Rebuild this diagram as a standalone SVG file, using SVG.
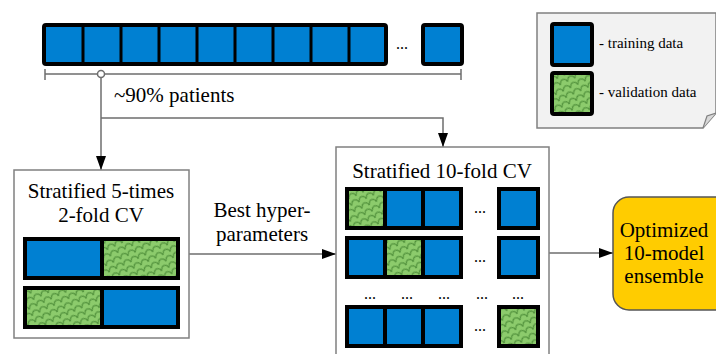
<svg xmlns="http://www.w3.org/2000/svg" width="716" height="354" viewBox="0 0 716 354">
<style>
.tr{fill:#0080D2;stroke:#000;stroke-width:4}
.va{fill:url(#green);stroke:#000;stroke-width:4}
.box{fill:#fff;stroke:#808080;stroke-width:1.5}
.ln{fill:none;stroke:#6e6e6e;stroke-width:1.5}
.t{font-family:'Liberation Serif','Times New Roman','DejaVu Serif',serif;font-size:21px;fill:#000}
.s{font-family:'Liberation Serif','Times New Roman','DejaVu Serif',serif;font-size:15px;fill:#000}
.dots{font-family:'Liberation Serif','Times New Roman','DejaVu Serif',serif;font-size:16px;fill:#000}
</style>
<defs>
<pattern id="green" width="8" height="7" patternUnits="userSpaceOnUse" patternTransform="rotate(-25)">
<rect width="8" height="7" fill="#8ccb6c"/>
<path d="M0,6 Q2,1 5,2 T8,6" fill="none" stroke="#4f8f3a" stroke-width="1.1"/>
</pattern>
<marker id="ah" markerWidth="14" markerHeight="10" refX="14" refY="5" orient="auto" markerUnits="userSpaceOnUse">
<path d="M0,0 L14,5 L0,10 Z" fill="#000"/>
</marker>
</defs>

<g id="legend">
<path d="M537,13 H716 V113 L703,128 H537 Z" fill="#f2f2f2" stroke="#808080" stroke-width="1.5"/>
<path d="M703,128 L707,116 L716,113" fill="#d9d9d9" stroke="#808080" stroke-width="1.2"/>
<rect class="tr" x="552" y="24" width="40" height="41" rx="2"/>
<rect class="va" x="552" y="73" width="40" height="41" rx="2"/>
<text class="s" x="599" y="48">- training data</text>
<text class="s" x="599" y="97">- validation data</text>
</g>

<g id="patients">
<rect class="tr" x="44" y="25" width="342" height="39" rx="2"/>
<path d="M83,25 V64 M121,25 V64 M159,25 V64 M197,25 V64 M235,25 V64 M273,25 V64 M311,25 V64 M349,25 V64" stroke="#000" stroke-width="3"/>
<text class="dots" x="396" y="49">...</text>
<rect class="tr" x="423" y="25" width="39" height="39" rx="2"/>
</g>

<g id="connectors">
<path class="ln" d="M45,74 H461 M45,69 V80 M461,69 V80"/>
<path class="ln" d="M101,78 V170" marker-end="url(#ah)"/>
<path class="ln" d="M101,118 H443 V147" marker-end="url(#ah)"/>
<circle cx="101" cy="74" r="3.5" fill="#fff" stroke="#6e6e6e" stroke-width="1.5"/>
<path class="ln" d="M189,254 H336" marker-end="url(#ah)"/>
<path class="ln" d="M549,253 H613" marker-end="url(#ah)"/>
<text class="t" x="114" y="102">~90% patients</text>
<text class="t" x="262" y="217" text-anchor="middle">Best hyper-</text>
<text class="t" x="262" y="241" text-anchor="middle">parameters</text>
</g>

<g id="cv5">
<rect class="box" x="14" y="170" width="175" height="168"/>
<text class="t" x="101" y="198" text-anchor="middle">Stratified 5-times</text>
<text class="t" x="101" y="222" text-anchor="middle">2-fold CV</text>
<rect class="tr" x="25" y="239" width="77" height="39"/>
<rect class="va" x="102" y="239" width="76" height="39"/>
<rect class="va" x="25" y="288" width="77" height="39"/>
<rect class="tr" x="102" y="288" width="76" height="39"/>
</g>

<g id="cv10">
<rect class="box" x="336" y="147" width="213" height="215"/>
<text class="t" x="442" y="178" text-anchor="middle">Stratified 10-fold CV</text>
<rect class="va" x="347" y="189" width="38" height="39"/>
<rect class="tr" x="385" y="189" width="38" height="39"/>
<rect class="tr" x="423" y="189" width="38" height="39"/>
<text class="dots" x="480" y="213" text-anchor="middle">...</text>
<rect class="tr" x="499" y="189" width="39" height="39"/>
<rect class="tr" x="347" y="238" width="38" height="39"/>
<rect class="va" x="385" y="238" width="38" height="39"/>
<rect class="tr" x="423" y="238" width="38" height="39"/>
<text class="dots" x="480" y="262" text-anchor="middle">...</text>
<rect class="tr" x="499" y="238" width="39" height="39"/>
<text class="dots" x="370" y="299" text-anchor="middle">...</text>
<text class="dots" x="407" y="299" text-anchor="middle">...</text>
<text class="dots" x="444" y="299" text-anchor="middle">...</text>
<text class="dots" x="482" y="299" text-anchor="middle">...</text>
<text class="dots" x="518" y="299" text-anchor="middle">...</text>
<rect class="tr" x="347" y="307" width="38" height="39"/>
<rect class="tr" x="385" y="307" width="38" height="39"/>
<rect class="tr" x="423" y="307" width="38" height="39"/>
<text class="dots" x="480" y="331" text-anchor="middle">...</text>
<rect class="va" x="499" y="307" width="39" height="39"/>
</g>

<g id="ensemble">
<rect x="613" y="197" width="120" height="113" rx="16" fill="#FFCC00" stroke="#555" stroke-width="1.5"/>
<text class="t" x="664" y="237" text-anchor="middle">Optimized</text>
<text class="t" x="664" y="260" text-anchor="middle">10-model</text>
<text class="t" x="664" y="283" text-anchor="middle">ensemble</text>
</g>
</svg>
